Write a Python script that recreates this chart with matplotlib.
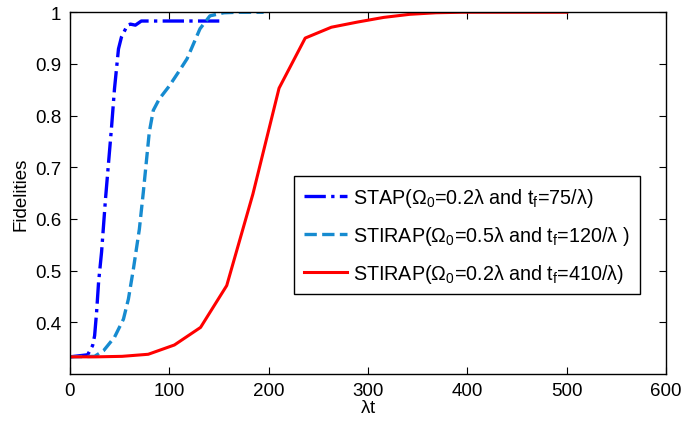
import numpy as np
import matplotlib
matplotlib.use('Agg')
import matplotlib.pyplot as plt
from matplotlib.ticker import FixedLocator, FixedFormatter

plt.rcParams['font.family'] = ['Liberation Sans', 'DejaVu Sans']
plt.rcParams['mathtext.default'] = 'regular'

# STAP (Omega0=0.2 lambda, tf=75/lambda)
t_stap = [0, 18, 23, 25, 27, 29, 32, 36, 42, 45, 49, 52, 58, 61, 66, 72, 100, 155]
f_stap = [0.333, 0.337, 0.355, 0.374, 0.42, 0.478, 0.536, 0.64, 0.777, 0.852,
          0.929, 0.952, 0.975, 0.977, 0.975, 0.983, 0.983, 0.983]

# STIRAP (Omega0=0.5 lambda, tf=120/lambda)
t_stirap1 = [0, 25, 34, 45, 54, 59, 64, 70, 74, 80, 84, 90, 100, 110, 118, 131, 141, 155, 170, 195]
f_stirap1 = [0.333, 0.334, 0.345, 0.371, 0.406, 0.445, 0.503, 0.58, 0.652, 0.768,
             0.81, 0.832, 0.857, 0.886, 0.91, 0.968, 0.993, 0.999, 1.0, 1.0]

# STIRAP (Omega0=0.2 lambda, tf=410/lambda)
t_stirap2 = np.linspace(0, 500, 20)
f_stirap2 = [0.333, 0.333, 0.334, 0.338, 0.356, 0.390, 0.471, 0.648, 0.853, 0.950,
             0.971, 0.981, 0.990, 0.996, 0.999, 1.0, 1.0, 1.0, 1.0, 1.0]

labels = [r'STAP($\Omega_0$=0.2$\lambda$ and t$_f$=75/$\lambda$)',
          r'STIRAP($\Omega_0$=0.5$\lambda$ and t$_f$=120/$\lambda$ )',
          r'STIRAP($\Omega_0$=0.2$\lambda$ and t$_f$=410/$\lambda$)']

fig = plt.figure(figsize=(6.84, 4.27), dpi=100)
ax = fig.add_axes([0.102, 0.122, 0.872, 0.847])

ax.plot(t_stap, f_stap, color='#0000ff', linestyle='-.', linewidth=2.4, label=labels[0])
ax.plot(t_stirap1, f_stirap1, color='#168bd0', linestyle='--', linewidth=2.4, label=labels[1])
ax.plot(t_stirap2, f_stirap2, color='#ff0000', linestyle='-', linewidth=2.2, label=labels[2])

ax.set_xlim(0, 600)
ax.set_ylim(0.3, 1.0)
ax.set_xticks(range(0, 601, 100))
yt = [0.4, 0.5, 0.6, 0.7, 0.8, 0.9, 1.0]
ax.yaxis.set_major_locator(FixedLocator(yt))
ax.yaxis.set_major_formatter(FixedFormatter(['0.4', '0.5', '0.6', '0.7', '0.8', '0.9', '1']))
ax.tick_params(direction='in', top=True, right=True, length=5, width=0.8, labelsize=13.5, pad=6)
for s in ax.spines.values():
    s.set_linewidth(1.0)

ax.set_xlabel(r'$\lambda$t', fontsize=13.5, labelpad=0)
ax.set_ylabel('Fidelities', fontsize=13.5, labelpad=4)

leg = ax.legend(loc='upper left', bbox_to_anchor=(0.376, 0.547), borderaxespad=0,
                fontsize=14.2, handlelength=2.2, handletextpad=0.3, labelspacing=0.75,
                borderpad=0.5, fancybox=False, framealpha=1)
leg.get_frame().set_edgecolor('black')
leg.get_frame().set_linewidth(1.0)

fig.savefig('out.png', dpi=100)
